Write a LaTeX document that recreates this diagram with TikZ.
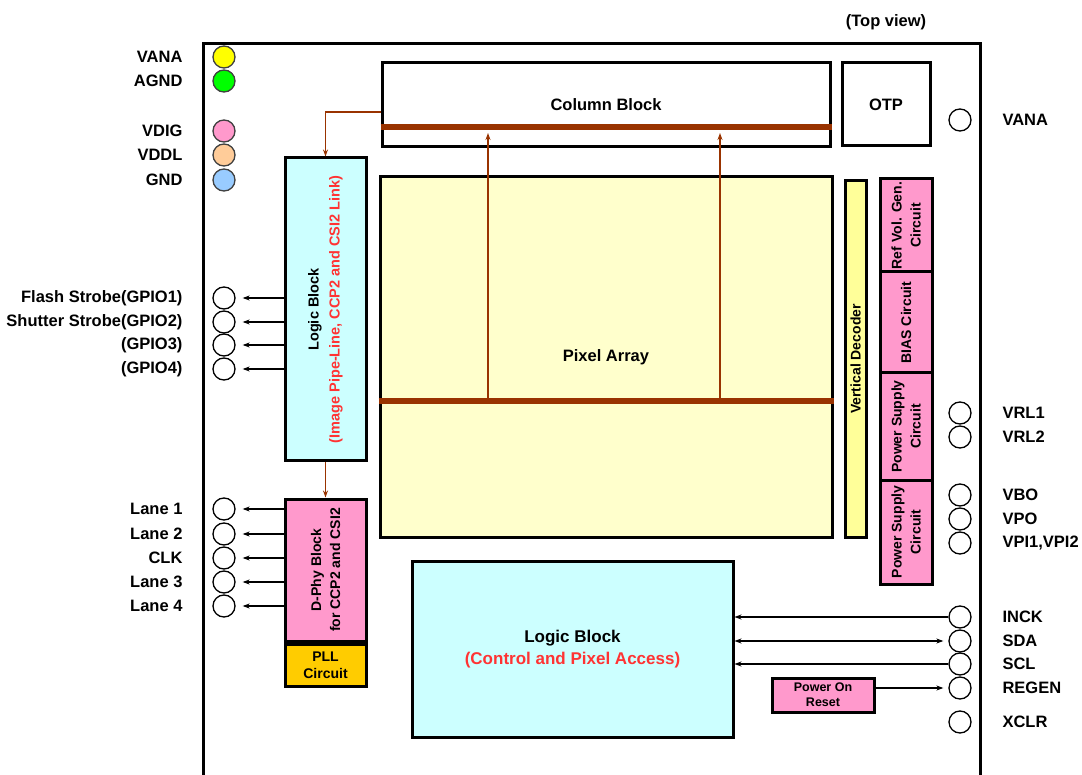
\documentclass[tikz,border=0pt]{standalone}
\usepackage{fontspec}
\setmainfont{Liberation Sans}
\usetikzlibrary{arrows.meta,positioning}

\definecolor{busbrown}{HTML}{993300}
\definecolor{blkcyan}{HTML}{CCFFFF}
\definecolor{blkpink}{HTML}{FF99CC}
\definecolor{pixyellow}{HTML}{FFFFCC}
\definecolor{decyellow}{HTML}{FFFF99}
\definecolor{pllorange}{HTML}{FFCC00}
\definecolor{pinyellow}{HTML}{FFFF00}
\definecolor{pingreen}{HTML}{00FF00}
\definecolor{pinpeach}{HTML}{FFCC99}
\definecolor{pinblue}{HTML}{99CCFF}
\definecolor{txtred}{HTML}{FF3333}

\begin{document}
\begin{tikzpicture}[x=1pt,y=-1pt,
    every node/.style={font=\bfseries\fontsize{16.5}{20}\selectfont},
    blk/.style={draw,line width=3pt,inner sep=0pt,align=center},
    vtxt/.style={rotate=90,align=center,font=\bfseries\fontsize{14}{19}\selectfont},
    pad/.style={draw,circle,line width=1.3pt,minimum size=22pt,inner sep=0pt},
    sig/.style={line width=1.3pt,-{Stealth[length=7pt,width=5pt]}},
    bus/.style={busbrown,line width=6pt},
    feed/.style={busbrown,line width=1.4pt,-{Stealth[length=7pt,width=5pt]}}]

    \useasboundingbox (0,0) rectangle (1082,775);

    % chip outline
    \begin{scope}
        \clip (0,0) rectangle (1082,775);
        \draw[line width=3pt] (203,44) rectangle (980,800);
    \end{scope}
    \node (topview) at (886,22) {(Top view)};

    % blocks
    \node[blk,minimum width=448pt,minimum height=84pt] (col) at (606,105) {Column Block};
    \node[blk,minimum width=88pt,minimum height=83pt] (otp) at (886,104.5) {OTP};
    \node[blk,fill=pixyellow,minimum width=452pt,minimum height=360pt] (pix) at (606,357) {Pixel Array};
    \node[blk,fill=decyellow,minimum width=21pt,minimum height=356pt] (vdec) at (855.5,359) {};
    \node[vtxt] (vdec-txt) at (vdec) {Vertical Decoder};

    \node[blk,fill=blkpink,minimum width=52pt,minimum height=93pt] (refv) at (906,225.5) {};
    \node[blk,fill=blkpink,minimum width=52pt,minimum height=101pt] (bias) at (906,322.5) {};
    \node[blk,fill=blkpink,minimum width=52pt,minimum height=107pt] (psup1) at (906,426.5) {};
    \node[blk,fill=blkpink,minimum width=52pt,minimum height=104pt] (psup2) at (906,532) {};
    \node[vtxt] (refv-txt) at (refv) {Ref Vol. Gen.\\Circuit};
    \node[vtxt] (bias-txt) at (bias) {BIAS Circuit};
    \node[vtxt] (psup1-txt) at (psup1) {Power Supply\\Circuit};
    \node[vtxt] (psup2-txt) at (psup2) {Power Supply\\Circuit};

    \node[blk,fill=blkcyan,minimum width=81pt,minimum height=303pt] (lgc) at (325.5,309.5) {};
    \node[vtxt,font=\bfseries\fontsize{14.5}{21}\selectfont] (lgc-txt) at (lgc) {Logic Block\\\textcolor{txtred}{(Image Pipe-Line, CCP2 and CSI2 Link)}};
    \node[blk,fill=blkpink,minimum width=81pt,minimum height=142pt] (dphy) at (325.5,570) {};
    \node[vtxt] (dphy-txt) at (dphy) {D-Phy Block\\for CCP2 and CSI2};
    \node[blk,fill=pllorange,minimum width=81pt,minimum height=42pt,below=0pt of dphy,
        font=\bfseries\fontsize{14}{17}\selectfont] (pll) {PLL\\Circuit};

    \node[blk,fill=blkcyan,minimum width=321pt,minimum height=176pt,
        font=\bfseries\fontsize{17}{22}\selectfont] (lgcb) at (572.5,649) {Logic Block\\\textcolor{txtred}{(Control and Pixel Access)}};
    \node[blk,fill=blkpink,minimum width=102pt,minimum height=34pt,
        font=\bfseries\fontsize{12.5}{15}\selectfont] (por) at (823,695) {Power On\\Reset};

    % buses
    \coordinate (cbar) at (606,127);
    \coordinate (pbar) at (606,401);
    \draw[bus] (col.west |- cbar) -- (col.east |- cbar);
    \draw[bus] (pix.west |- pbar) -- (pix.east |- pbar);
    \coordinate (up1) at (488,401);
    \coordinate (up2) at (720,401);
    \draw[feed,shorten >=6pt] (up1) -- (up1 |- cbar);
    \draw[feed,shorten >=6pt] (up2) -- (up2 |- cbar);
    \draw[feed] ([yshift=-7pt]col.west) -| (lgc.north);
    \draw[feed] (lgc.south) -- (dphy.north);

    % power pins, left
    \foreach \n/\y/\c in {VANA/57/pinyellow, AGND/81/pingreen, VDIG/131/blkpink, VDDL/155/pinpeach, GND/180/pinblue}{
        \node[pad,fill=\c,draw=black!75] (pl-\n) at (224,\y) {};
        \node[anchor=east] (pl-\n-lbl) at (186,\y) {\n};
    }

    % GPIO pins
    \foreach \i/\y/\t in {1/298/{Flash Strobe(GPIO1)}, 2/322/{Shutter Strobe(GPIO2)}, 3/345/{(GPIO3)}, 4/369/{(GPIO4)}}{
        \node[pad] (g\i) at (224,\y) {};
        \node[anchor=east] (g\i-lbl) at (186,\y) {\t};
        \draw[sig,shorten >=7pt] (lgc.west |- g\i) -- (g\i.east);
    }

    % lane pins
    \foreach \i/\y/\t in {1/509/Lane 1, 2/534/Lane 2, 3/558/CLK, 4/582/Lane 3, 5/606/Lane 4}{
        \node[pad] (ln\i) at (224,\y) {};
        \node[anchor=east] (ln\i-lbl) at (186,\y) {\t};
        \draw[sig,shorten >=7pt] (dphy.west |- ln\i) -- (ln\i.east);
    }

    % pins, right
    \foreach \i/\y/\t in {1/120/VANA, 2/413/VRL1, 3/437/VRL2, 4/495/VBO, 5/519/VPO, 6/543/{VPI1,VPI2},
                          7/617/INCK, 8/641/SDA, 9/664/SCL, 10/688/REGEN, 11/722/XCLR}{
        \node[pad] (r\i) at (960,\y) {};
        \node[anchor=west] (r\i-lbl) at (999,\y) {\t};
    }

    \draw[sig] (r7.west) -- (lgcb.east |- r7);
    \draw[sig,{Stealth[length=7pt,width=5pt]}-{Stealth[length=7pt,width=5pt]},shorten >=5pt] (lgcb.east |- r8) -- (r8.west);
    \draw[sig] (r9.west) -- (lgcb.east |- r9);
    \draw[sig,shorten >=5pt] (por.east |- r10) -- (r10.west);
\end{tikzpicture}
\end{document}
